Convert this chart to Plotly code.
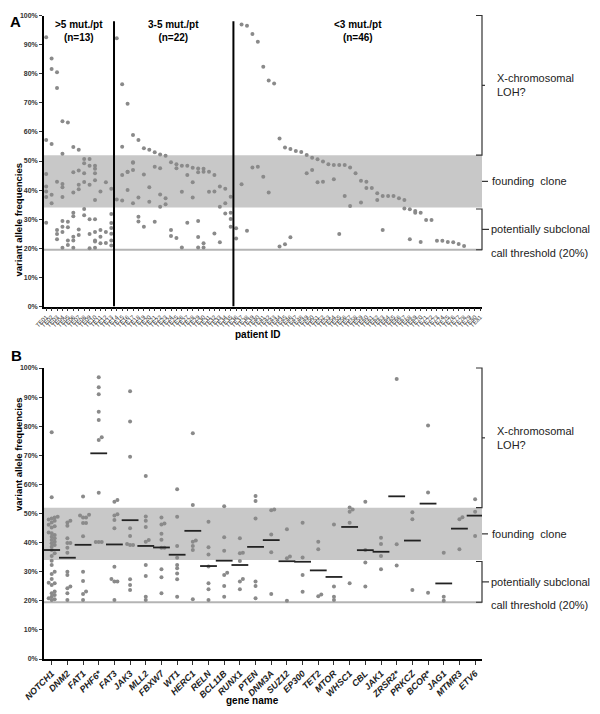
import plotly.graph_objects as go

FONT = "Liberation Sans, Arial, sans-serif"

# ---------------- Panel A data ----------------
patient_ids = ["TE01", "TE02", "TE03", "TE04", "TE05", "TE06", "TE07", "TE08", "TE09", "TE10",
               "TE11", "TE12", "TE13", "TE14", "TE15", "TE16", "TE17", "TE18", "TE19", "TE20",
               "TE21", "TE22", "TE23", "TE24", "TE25", "TE26", "TE27", "TE28", "TE29", "TE30",
               "TE31", "TE32", "TE33", "TE34", "TE35", "TE36", "TE37", "TE38", "TE39", "TE40",
               "TE41", "TE42", "TE43", "TE44", "TE45", "TE46", "TE47", "TE48", "TE49", "TE50",
               "TE51", "TE52", "TE53", "TE54", "TE55", "TE56", "TE57", "TE58", "TE59", "TE60",
               "TE61", "TE62", "TE63", "TE64", "TE65", "TE66", "TE67", "TE68", "TE69", "TE70",
               "TE71", "TE72", "TE73", "TE74", "TE75", "TE76", "TE77", "TE78", "TE79", "TE80",
               "TE81"]

group_titles = [">5 mut./pt", "3-5 mut./pt", "<3 mut./pt"]
group_sizes = [13, 22, 46]

vafs_gt5 = [
    [92.5, 57.2, 45.5, 41.2, 39.5, 37.6, 28.8],
    [85.2, 81.6, 55.8, 38.4, 35.5],
    [80.5, 75.1, 42.9, 26.3, 24.9, 23.1],
    [63.7, 52.5, 42.1, 41.0, 37.6, 29.4, 27.4, 25.6, 20.2],
    [63.2, 29.1, 27.2, 22.7, 21.1],
    [54.8, 46.1, 39.2, 32.2, 31.0, 24.0, 22.7, 20.2],
    [53.9, 46.7, 41.8, 40.3, 26.5, 24.6],
    [50.7, 49.2, 45.8, 42.8, 33.5, 31.4],
    [50.7, 48.4, 41.8, 30.0, 24.9, 20.0],
    [48.4, 47.3, 45.8, 43.4, 36.6, 30.0, 25.6, 22.7, 22.3, 20.2],
    [39.5, 26.3, 24.0, 21.7],
    [42.7, 25.6, 21.8],
    [40.5, 31.8, 28.7, 27.0, 25.0, 22.7, 21.0],
]

vafs_3to5 = [
    [92.2, 36.8],
    [76.4, 54.9, 45.2, 36.4],
    [69.7, 46.3, 46.2, 40.0],
    [58.9, 49.6, 49.4, 46.9, 35.5],
    [57.2, 37.5, 30.8, 29.2],
    [54.4, 45.4, 27.4],
    [53.9, 41.0, 36.0],
    [53.0, 48.0, 29.1],
    [52.2, 47.5, 38.5, 34.3],
    [51.8, 37.2, 35.1],
    [49.6, 26.3, 24.2],
    [48.9, 47.5, 23.5],
    [48.4, 39.4, 20.3],
    [48.4, 45.2, 28.8],
    [47.7, 42.7, 37.5],
    [47.4, 46.1, 29.4, 23.9, 20.3],
    [47.3, 46.3, 21.7, 20.3],
    [46.3, 39.4],
    [45.2, 39.5, 25.1],
    [41.2, 34.3, 22.1],
    [40.5, 35.5, 32.0],
    [37.7, 32.2, 30.1, 27.4],
]

vafs_lt3 = [
    [26.9, 23.4],
    [96.9, 42.0], [96.5, 26.0], [93.6, 47.8], [91.0, 48.0], [82.4, 44.6],
    [77.7, 39.2], [76.6], [57.7, 20.6], [54.6, 21.4], [54.1, 23.8],
    [53.4], [53.1], [52.1, 45.8], [51.1, 46.9], [50.6, 42.7],
    [49.8, 42.9], [48.9], [48.6, 43.7], [48.6, 24.9], [48.6, 38.0],
    [47.8, 34.5], [45.8], [43.2, 35.7], [42.9, 40.7], [40.7],
    [38.9, 36.6], [38.0, 26.3], [38.0], [38.0], [37.2],
    [36.6, 33.7], [33.4, 23.1], [32.8, 32.2], [32.2, 22.2], [29.7],
    [29.7], [22.6], [22.6], [22.2], [22.1],
    [21.5], [20.8], [], [], [],
]

# ---------------- Panel B data ----------------
gene_names = ["NOTCH1", "DNM2", "FAT1", "PHF6*", "FAT3", "JAK3", "MLL2", "FBXW7", "WT1",
              "HERC1", "RELN", "BCL11B", "RUNX1", "PTEN", "DNM3A", "SUZ12", "EP300", "TET2",
              "MTOR", "WHSC1", "CBL", "JAK1", "ZRSR2*", "PRKCZ", "BCOR*", "JAG1", "MTMR3", "ETV6"]

gene_vafs = [
    [77.9, 55.6, 48.9, 48.6, 48.3, 47.9, 47.5, 46.9, 46.1, 45.6, 45.2, 43.5, 43.2, 42.6,
     42.0, 41.5, 40.9, 40.3, 39.8, 39.2, 38.6, 37.5, 36.3, 35.4, 33.8, 32.3, 30.0, 29.2,
     27.5, 26.2, 26.0, 25.4, 23.2, 22.6, 22.0, 21.4, 20.9, 20.5, 20.3],
    [47.5, 46.9, 45.8, 41.5, 39.9, 39.9, 38.2, 36.5, 30.0, 28.9, 24.9, 24.3, 22.6, 20.3],
    [55.8, 49.6, 49.3, 48.6, 48.6, 46.7, 46.7, 42.2, 30.0, 26.8, 23.2, 22.3, 20.3],
    [96.8, 93.4, 91.0, 85.0, 82.1, 76.2, 75.3, 57.1, 40.2, 40.2, 40.2],
    [54.6, 54.0, 49.7, 49.3, 47.8, 44.9, 31.7, 27.5, 26.6, 26.6, 20.3],
    [92.0, 81.6, 69.5, 44.9, 42.3, 39.5, 39.2, 39.2, 27.4, 25.4, 23.7],
    [62.9, 49.0, 47.5, 45.4, 40.9, 40.3, 32.3, 28.5, 21.4, 20.3],
    [48.6, 46.6, 46.2, 43.0, 41.0, 38.2, 38.2, 30.8, 28.1, 22.6],
    [58.3, 48.9, 38.8, 34.8, 32.3, 31.2, 29.4, 27.4, 21.4],
    [77.6, 52.9, 40.7, 40.3, 38.8, 37.5, 20.5],
    [47.2, 38.4, 35.9, 31.8, 26.0, 24.0, 20.3],
    [52.5, 41.8, 37.2, 29.6, 28.9, 25.1, 21.4],
    [41.5, 36.5, 36.3, 33.7, 27.5, 26.6, 24.0],
    [56.0, 54.3, 48.3, 26.6, 25.1, 20.9],
    [51.4, 51.1, 42.8, 36.7, 22.3],
    [44.6, 35.2, 34.6, 20.0],
    [46.8, 34.9, 28.9, 23.1],
    [40.3, 37.7, 22.2, 21.6],
    [46.2, 24.9, 21.4, 20.3],
    [52.1, 51.4, 50.6, 46.8, 26.0],
    [54.0, 37.5, 33.2, 24.9],
    [41.7, 39.5, 35.4, 30.8],
    [96.2, 39.4, 32.1],
    [50.4, 48.0, 23.7],
    [80.2, 57.2, 22.8],
    [36.5, 21.4, 20.0],
    [48.7, 48.0, 37.7],
    [54.9, 50.6, 42.3],
]

ytick_vals = [0, 10, 20, 30, 40, 50, 60, 70, 80, 90, 100]
ytick_text = ["0%", "10%", "20%", "30%", "40%", "50%", "60%", "70%", "80%", "90%", "100%"]

founding_band = (34, 52)
threshold = 19.5

# ---------------- Layout geometry ----------------
W, H = 600, 714
ML, MR, MT, MB = 44, 118, 15, 55
plot_w = W - ML - MR
plot_h = H - MT - MB


def py(px):
    return (H - MB - px) / plot_h


def pxx(px):
    return (px - ML) / plot_w


domA = [py(306.5), py(15.5)]
domB = [0.0, py(368)]

fig = go.Figure()

# ---- Panel A points ----
all_groups = [vafs_gt5, vafs_3to5, vafs_lt3]
xa, ya = [], []
idx = 0
for grp in all_groups:
    for vals in grp:
        for v in vals:
            xa.append(idx)
            ya.append(v)
        idx += 1
n_pat = idx

fig.add_trace(go.Scatter(
    x=xa, y=ya, mode="markers", xaxis="x", yaxis="y",
    marker=dict(size=4, color="#8a8a8a", line=dict(width=0)),
    hoverinfo="skip", showlegend=False))

# ---- Panel B points (beeswarm spread) ----
PXX_B = plot_w / 27.93
PXY = (py(15.5) - py(306.5)) * plot_h / 100.0
SEP = 3.0


def swarm(values, center):
    placed = []
    xs = [0.0] * len(values)
    order = sorted(range(len(values)), key=lambda i: values[i])
    cand = [0]
    for n in range(1, 25):
        cand += [n, -n]
    for i in order:
        yv = values[i] * PXY
        for o in cand:
            xo = o * SEP
            if all((xo - a) ** 2 + (yv - b) ** 2 >= SEP ** 2 for a, b in placed):
                break
        placed.append((xo, yv))
        xs[i] = center + xo / PXX_B
    return xs


xb, yb, mx, my = [], [], [], []
for gi, vals in enumerate(gene_vafs):
    xb += swarm(vals, gi)
    yb += vals
    mx.append(gi)
    my.append(sum(vals) / len(vals))

fig.add_trace(go.Scatter(
    x=xb, y=yb, mode="markers", xaxis="x2", yaxis="y2",
    marker=dict(size=4, color="#8a8a8a", line=dict(width=0)),
    hoverinfo="skip", showlegend=False))
fig.add_trace(go.Scatter(
    x=mx, y=my, mode="markers", xaxis="x2", yaxis="y2",
    marker=dict(symbol="line-ew", size=12, color="#222222",
                line=dict(width=1.8, color="#222222")),
    hoverinfo="skip", showlegend=False))

# ---------------- Shapes ----------------
shapes = []
annotations = []
HOOK = 6 / plot_w

for xr, yr, xd, yd in [("x", "y", "x domain", "y domain"), ("x2", "y2", "x2 domain", "y2 domain")]:
    shapes.append(dict(type="rect", xref=xd, yref=yr, x0=0, x1=1,
                       y0=founding_band[0], y1=founding_band[1],
                       fillcolor="#c8c8c8", line=dict(width=0), layer="below"))
    shapes.append(dict(type="line", xref=xd, yref=yr, x0=0, x1=1, y0=threshold, y1=threshold,
                       line=dict(color="#b4b4b4", width=2), layer="below"))
    top, b1 = 1.0, founding_band[1] / 100
    shapes.append(dict(type="path", xref=xd, yref=yd,
                       path=f"M {1-HOOK} {top} L 1 {top} L 1 {b1} L {1-HOOK} {b1}",
                       line=dict(color="#333", width=1.2)))
    mid = (top + b1) / 2
    shapes.append(dict(type="line", xref=xd, yref=yd, x0=1, x1=1 + 3 / plot_w, y0=mid, y1=mid,
                       line=dict(color="#333", width=1.2)))
    t2, b2 = 0.335, 0.195
    shapes.append(dict(type="path", xref=xd, yref=yd,
                       path=f"M {1-HOOK} {t2} L 1 {t2} L 1 {b2} L {1-HOOK} {b2}",
                       line=dict(color="#333", width=1.2)))
    m2 = (t2 + b2) / 2
    shapes.append(dict(type="line", xref=xd, yref=yd, x0=1, x1=1 + 7 / plot_w, y0=m2, y1=m2,
                       line=dict(color="#333", width=1.2)))
    mf = sum(founding_band) / 200
    shapes.append(dict(type="line", xref=xd, yref=yd, x0=1, x1=1 + 6 / plot_w, y0=mf, y1=mf,
                       line=dict(color="#333", width=1.2)))

    tf = dict(family=FONT, size=11, color="#222")
    annotations += [
        dict(xref=xd, yref=yd, x=1 + 13 / plot_w, y=mid, text="X-chromosomal<br>LOH?",
             showarrow=False, xanchor="left", yanchor="middle", align="left", font=tf),
        dict(xref=xd, yref=yd, x=1 + 8 / plot_w, y=mf, text="founding  clone",
             showarrow=False, xanchor="left", yanchor="middle", font=tf),
        dict(xref=xd, yref=yd, x=1 + 7 / plot_w, y=m2, text="potentially subclonal",
             showarrow=False, xanchor="left", yanchor="middle", font=tf),
        dict(xref=xd, yref=yd, x=1 + 7 / plot_w, y=0.185, text="call threshold (20%)",
             showarrow=False, xanchor="left", yanchor="middle", font=tf),
    ]

start = 0
for gi, n in enumerate(group_sizes):
    end = start + n
    if end < n_pat:
        shapes.append(dict(type="line", xref="x", yref="y", x0=end - 0.5, x1=end - 0.5,
                           y0=0, y1=98, line=dict(color="black", width=2)))
    annotations.append(dict(xref="x", yref="y", x=(start + end - 1) / 2, y=94.5,
                            text=f"{group_titles[gi]}<br>(n={n})", showarrow=False,
                            font=dict(family=FONT, size=10, color="black", weight="bold"),
                            xanchor="center", yanchor="middle"))
    start = end

annotations += [
    dict(xref="paper", yref="paper", x=pxx(8), y=py(11), text="A", showarrow=False,
         font=dict(family=FONT, size=15, color="black", weight="bold")),
    dict(xref="paper", yref="paper", x=pxx(9), y=py(355), text="B", showarrow=False,
         font=dict(family=FONT, size=15, color="black", weight="bold")),
    dict(xref="paper", yref="paper", x=pxx(11), y=sum(domA) / 2, text="variant allele frequencies",
         textangle=-90, showarrow=False,
         font=dict(family=FONT, size=9.5, color="black", weight="bold")),
    dict(xref="paper", yref="paper", x=pxx(11), y=sum(domB) / 2, text="variant allele frequencies",
         textangle=-90, showarrow=False,
         font=dict(family=FONT, size=9.5, color="black", weight="bold")),
    dict(xref="paper", yref="paper", x=pxx(258), y=py(334), text="patient ID", showarrow=False,
         font=dict(family=FONT, size=10, color="black", weight="bold")),
    dict(xref="paper", yref="paper", x=pxx(252), y=py(708), text="gene name", showarrow=False,
         font=dict(family=FONT, size=10, color="black", weight="bold")),
]

yax = dict(range=[0, 100], tickmode="array", tickvals=ytick_vals, ticktext=ytick_text,
           tickfont=dict(family=FONT, size=7, color="#333", weight="bold"),
           ticks="outside", ticklen=3, tickwidth=1, tickcolor="#333",
           showline=True, linecolor="black", linewidth=1.5, showgrid=False, zeroline=False,
           automargin=False, fixedrange=True)

fig.update_layout(
    width=W, height=H, template="none",
    margin=dict(l=ML, r=MR, t=MT, b=MB, pad=0),
    paper_bgcolor="white", plot_bgcolor="white",
    showlegend=False,
    xaxis=dict(domain=[0, 1], anchor="y", range=[-0.4, 80.3], tickmode="array",
               tickvals=list(range(n_pat)), ticktext=patient_ids, tickangle=-45,
               tickfont=dict(family=FONT, size=6, color="#333"),
               ticks="outside", ticklen=3, tickwidth=1, tickcolor="#333",
               showline=True, linecolor="black", linewidth=1.5, showgrid=False,
               zeroline=False, automargin=False),
    yaxis=dict(domain=domA, anchor="x", **yax),
    xaxis2=dict(domain=[0, 1], anchor="y2", range=[-0.49, 27.44], tickmode="array",
                tickvals=list(range(len(gene_names))), ticktext=gene_names, tickangle=-45,
                tickfont=dict(family=FONT, size=9, color="#222", weight="bold", style="italic"),
                ticks="outside", ticklen=4, tickwidth=1, tickcolor="#333",
                showline=True, linecolor="black", linewidth=1.5, showgrid=False,
                zeroline=False, automargin=False),
    yaxis2=dict(domain=domB, anchor="x2", **yax),
    shapes=shapes,
    annotations=annotations,
)

fig.write_html("out.html", config={"displayModeBar": False},
               post_script="document.body.style.margin='0px';")
